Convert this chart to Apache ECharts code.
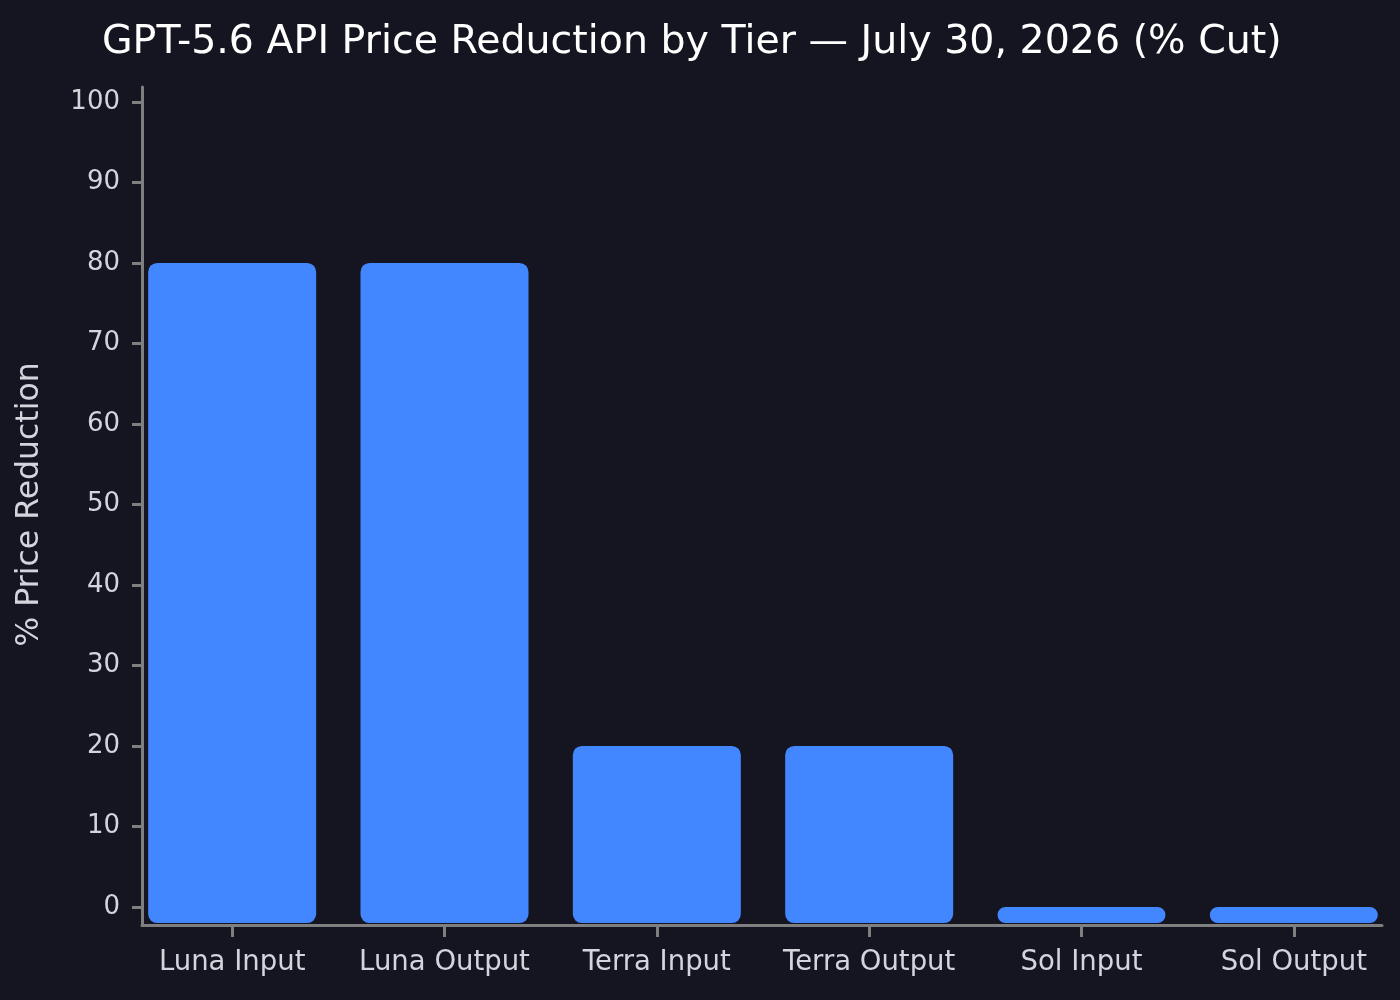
<!DOCTYPE html>
<html>
<head>
<meta charset="utf-8">
<title>GPT-5.6 API Price Reduction by Tier</title>
<script src="https://cdn.jsdelivr.net/npm/echarts@6/dist/echarts.min.js"></script>
<style>
  html, body { margin: 0; padding: 0; background: #151521; }
  #chart { width: 1400px; height: 1000px; }
</style>
</head>
<body>
<div id="chart"></div>
<script>
// data
var TITLE_ = 'GPT-5.6 API Price Reduction by Tier \u2014 July 30, 2026 (% Cut)';
var Y_NAME = '% Price Reduction';
var tiers = ['Luna Input', 'Luna Output', 'Terra Input', 'Terra Output', 'Sol Input', 'Sol Output'];
var cuts = [80, 80, 20, 20, 0, 0];
var BAR_BASE = -2;            // bars are drawn down a little below zero
var yTicks = [0, 100, 10];    // min, max, step of the labelled axis
var Y_LIM = [-2.24, 101.86];  // extent of the plot area in data units

var BG = '#151521', BAR = '#4287ff', SPINE = '#7f7f7f', TXT = '#d4d4dc';
var FONT = 'DejaVu Sans';

// the bar grid's hidden axis is shifted so every bar starts at BAR_BASE
var barData = [];
for (var i = 0; i < cuts.length; i++) {
    barData.push(cuts[i] - BAR_BASE);
}

var chart = echarts.init(document.getElementById('chart'), null, { renderer: 'canvas' });
chart.setOption({
    backgroundColor: BG,
    animation: false,
    title: {
        text: TITLE_,
        left: 97,
        top: 18,
        textStyle: { color: '#ffffff', fontFamily: FONT, fontSize: 39.5, fontWeight: 'normal' }
    },
    grid: [
        // bars + category labels
        { left: 126, top: 87, width: 1275, height: 838 },
        // spines
        { left: 142, top: 87, width: 1240, height: 838 },
        // labelled value axis
        { left: 142, top: 102, width: 1240, height: 805 }
    ],
    xAxis: [
        {
            gridIndex: 0, type: 'category', data: tiers,
            axisLine: { show: true, onZero: false, lineStyle: { color: 'rgba(0,0,0,0)', width: 0 } },
            axisTick: { show: true, alignWithLabel: true, interval: 0, length: 12, lineStyle: { color: SPINE, width: 3 } },
            axisLabel: { color: TXT, fontFamily: FONT, fontSize: 27.5, margin: 24, interval: 0 },
            splitLine: { show: false }
        },
        {
            gridIndex: 1, type: 'value', min: 0, max: 1,
            axisLine: { show: true, onZero: false, lineStyle: { color: SPINE, width: 3 } },
            axisTick: { show: false }, axisLabel: { show: false }, splitLine: { show: false }
        },
        { gridIndex: 2, type: 'value', min: 0, max: 1, show: false }
    ],
    yAxis: [
        { gridIndex: 0, type: 'value', min: Y_LIM[0] - BAR_BASE, max: Y_LIM[1] - BAR_BASE, show: false },
        {
            gridIndex: 1, type: 'value', min: 0, max: 1,
            axisLine: { show: true, onZero: false, lineStyle: { color: SPINE, width: 3 } },
            axisTick: { show: false }, axisLabel: { show: false }, splitLine: { show: false }
        },
        {
            gridIndex: 2, type: 'value', min: yTicks[0], max: yTicks[1], interval: yTicks[2],
            name: Y_NAME, nameLocation: 'middle', nameGap: 96,
            nameTextStyle: { color: TXT, fontFamily: FONT, fontSize: 31.5 },
            axisLine: { show: false, onZero: false },
            axisTick: { show: true, length: 10, lineStyle: { color: SPINE, width: 3 } },
            axisLabel: { color: TXT, fontFamily: FONT, fontSize: 26, margin: 22 },
            splitLine: { show: false }
        }
    ],
    series: [
        {
            name: 'cut', type: 'bar', xAxisIndex: 0, yAxisIndex: 0,
            barWidth: 168, data: barData,
            itemStyle: { color: BAR, borderRadius: 9 }
        }
    ]
});
</script>
</body>
</html>
